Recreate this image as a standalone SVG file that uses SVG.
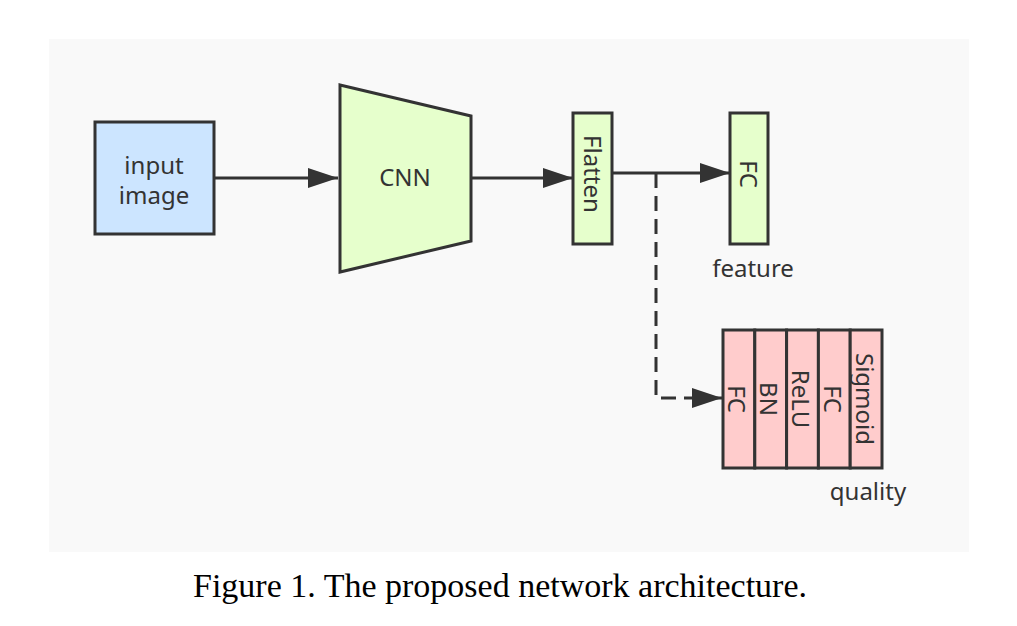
<svg xmlns="http://www.w3.org/2000/svg" width="1017" height="626" viewBox="0 0 1017 626">
<defs>
<style>
.lbl{font-family:"Noto Sans","Open Sans",sans-serif;font-size:24px;fill:#333}
.box{stroke:#333;stroke-width:3}
.con{stroke:#333;stroke-width:3;fill:none}
.cap{font-family:"Liberation Serif","Times New Roman",serif;font-size:34px;fill:#000}
</style>
<marker id="arr" markerUnits="userSpaceOnUse" markerWidth="32" markerHeight="22" refX="30" refY="10" orient="auto">
<path d="M0,0 L30,10 L0,20 Z" fill="#333"/>
</marker>
</defs>
<rect x="0" y="0" width="1017" height="626" fill="#fff"/>
<rect x="49" y="39" width="920" height="513" fill="#f9f9f9"/>
<g id="connectors">
<line class="con" x1="214" y1="178" x2="338" y2="178" marker-end="url(#arr)"/>
<line class="con" x1="471" y1="178" x2="573" y2="178" marker-end="url(#arr)"/>
<line class="con" x1="612" y1="173" x2="730" y2="173" marker-end="url(#arr)"/>
<path class="con" d="M656,173 L656,398 L722,398" stroke-dasharray="15 8" marker-end="url(#arr)"/>
</g>
<g id="input">
<rect class="box" x="95" y="122" width="119" height="112" fill="#cce5ff"/>
<text class="lbl" x="154" y="174" text-anchor="middle">input</text>
<text class="lbl" x="154" y="204" text-anchor="middle">image</text>
</g>
<g id="cnn">
<polygon class="box" points="340,85 471,116 471,241 340,272" fill="#e6ffcc"/>
<text class="lbl" x="405" y="186" text-anchor="middle">CNN</text>
</g>
<g id="flatten">
<rect class="box" x="573" y="113" width="39" height="131" fill="#e6ffcc"/>
<text class="lbl" transform="translate(584,174) rotate(90)" text-anchor="middle">Flatten</text>
</g>
<g id="fc-feature">
<rect class="box" x="730" y="113" width="38" height="131" fill="#e6ffcc"/>
<text class="lbl" transform="translate(740,174) rotate(90)" text-anchor="middle">FC</text>
<text class="lbl" x="753" y="277" text-anchor="middle">feature</text>
</g>
<g id="quality-head">
<rect class="box" x="723" y="330" width="31.8" height="138" fill="#ffcccc"/>
<rect class="box" x="754.8" y="330" width="31.8" height="138" fill="#ffcccc"/>
<rect class="box" x="786.6" y="330" width="31.8" height="138" fill="#ffcccc"/>
<rect class="box" x="818.4" y="330" width="31.8" height="138" fill="#ffcccc"/>
<rect class="box" x="850.2" y="330" width="31.8" height="138" fill="#ffcccc"/>
<text class="lbl" transform="translate(728,399) rotate(90)" text-anchor="middle">FC</text>
<text class="lbl" transform="translate(760,399) rotate(90)" text-anchor="middle">BN</text>
<text class="lbl" transform="translate(792,399) rotate(90)" text-anchor="middle">ReLU</text>
<text class="lbl" transform="translate(824,399) rotate(90)" text-anchor="middle">FC</text>
<text class="lbl" transform="translate(856,399) rotate(90)" text-anchor="middle">Sigmoid</text>
<text class="lbl" x="868" y="500" text-anchor="middle">quality</text>
</g>
<text class="cap" x="500" y="597" text-anchor="middle">Figure 1. The proposed network architecture.</text>
</svg>
